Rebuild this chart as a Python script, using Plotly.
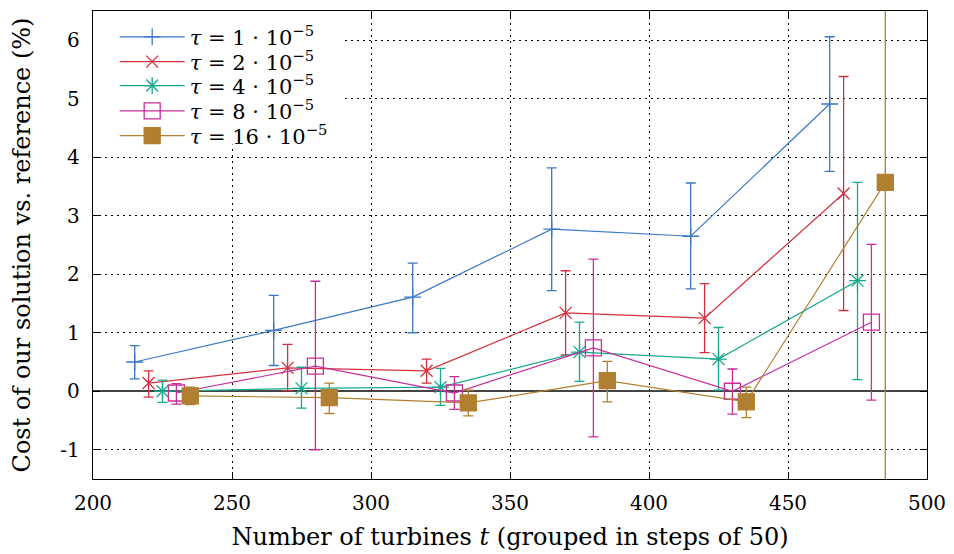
import plotly.graph_objects as go

# group offsets per tau
x_t1 = [215, 265, 315, 365, 415, 465]
x_t2 = [220, 270, 320, 370, 420, 470]
x_t4 = [225, 275, 325, 375, 425, 475]
x_t8 = [230, 280, 330, 380, 430, 480]
x_t16 = [235, 285, 335, 385, 435, 485]

y_t1 = [0.50, 1.04, 1.61, 2.77, 2.65, 4.91]
up_t1 = [0.78, 1.64, 2.19, 3.82, 3.56, 6.06]
lo_t1 = [0.21, 0.44, 1.00, 1.72, 1.75, 3.76]

y_t2 = [0.14, 0.40, 0.35, 1.34, 1.25, 3.38]
up_t2 = [0.35, 0.80, 0.55, 2.06, 1.84, 5.38]
lo_t2 = [-0.10, 0.01, 0.14, 0.62, 0.66, 1.38]

y_t4 = [0.00, 0.05, 0.07, 0.67, 0.55, 1.89]
up_t4 = [0.19, 0.41, 0.39, 1.18, 1.09, 3.57]
lo_t4 = [-0.19, -0.29, -0.24, 0.17, 0.02, 0.20]

y_t8 = [-0.03, 0.43, -0.03, 0.74, 0.00, 1.18]
up_t8 = [0.13, 1.88, 0.25, 2.26, 0.38, 2.51]
lo_t8 = [-0.22, -1.00, -0.31, -0.78, -0.39, -0.15]

y_t16 = [-0.08, -0.11, -0.20, 0.18, -0.18, 3.57]
up_t16 = [0.07, 0.14, 0.02, 0.51, 0.07, 14.0]
lo_t16 = [-0.23, -0.38, -0.42, -0.18, -0.45, -8.0]

labels = ["<i>τ</i> = 1 · 10<sup>−5</sup>", "<i>τ</i> = 2 · 10<sup>−5</sup>",
          "<i>τ</i> = 4 · 10<sup>−5</sup>", "<i>τ</i> = 8 · 10<sup>−5</sup>",
          "<i>τ</i> = 16 · 10<sup>−5</sup>"]
colors = ["#3a78c4", "#d4303d", "#17a88e", "#c62e9c", "#b07f30"]
symbols = ["cross-thin-open", "x-thin-open", "asterisk-open", "square-open", "square"]
sizes = [12, 12, 14, 16, 16]

xticks = [200, 250, 300, 350, 400, 450, 500]
yticks = [-1, 0, 1, 2, 3, 4, 5, 6]
yticktext = ["-1", "0", "1", "2", "3", "4", "5", "6"]

FONT = "DejaVu Serif"

series = [(x_t1, y_t1, up_t1, lo_t1), (x_t2, y_t2, up_t2, lo_t2),
          (x_t4, y_t4, up_t4, lo_t4), (x_t8, y_t8, up_t8, lo_t8),
          (x_t16, y_t16, up_t16, lo_t16)]

legend_names = ["legend", "legend2", "legend3", "legend4", "legend5"]
legend_y = [0.944, 0.891, 0.840, 0.786, 0.733]

fig = go.Figure()
for i, (xs, ys, ups, los) in enumerate(series):
    plus = [u - y for u, y in zip(ups, ys)]
    minus = [y - l for l, y in zip(los, ys)]
    fig.add_trace(go.Scatter(
        x=xs, y=ys, mode="lines+markers", name=labels[i],
        legend=legend_names[i],
        line=dict(color=colors[i], width=1.2),
        marker=dict(symbol=symbols[i], size=sizes[i], color=colors[i],
                    line=dict(color=colors[i], width=1.3)),
        error_y=dict(type="data", symmetric=False, array=plus, arrayminus=minus,
                     color=colors[i], thickness=1.3, width=5),
    ))

axis_common = dict(
    showline=True, linecolor="black", linewidth=1.3, mirror="ticks",
    ticks="inside", ticklen=7, tickcolor="black", tickwidth=1,
    showgrid=True, gridcolor="black", gridwidth=1, griddash="2px,4px",
    tickfont=dict(family=FONT, size=20, color="black"),
)

fig.update_xaxes(range=[200, 500], tickvals=xticks, ticklabelstandoff=6, **axis_common,
                 title=dict(text="Number of turbines <i>t</i> (grouped in steps of 50)",
                            font=dict(family=FONT, size=24, color="black"), standoff=14))
fig.update_yaxes(range=[-1.5, 6.5], tickvals=yticks, ticktext=yticktext,
                 ticklabelstandoff=8, **axis_common,
                 zeroline=True, zerolinecolor="#444", zerolinewidth=2,
                 title=dict(text="Cost of our solution vs. reference (%)",
                            font=dict(family=FONT, size=24, color="black"), standoff=22))

# white box behind the legend entries (hides the grid there, as in the original)
fig.add_shape(type="rect", xref="paper", yref="paper", x0=0.0, x1=0.30, y0=0.715, y1=1.0,
              fillcolor="white", line=dict(width=0), layer="above")

legends = {}
for i, ln in enumerate(legend_names):
    legends[ln] = dict(x=0.026, y=legend_y[i], xanchor="left", yanchor="middle",
                       bgcolor="rgba(0,0,0,0)", borderwidth=0, itemwidth=65,
                       font=dict(family=FONT, size=21, color="black"))

fig.update_layout(
    width=946, height=546,
    margin=dict(l=85, r=27, t=3, b=75),
    paper_bgcolor="white", plot_bgcolor="white",
    font=dict(family=FONT, color="black"),
    showlegend=True,
    **legends,
)

fig.write_html("out.html")
